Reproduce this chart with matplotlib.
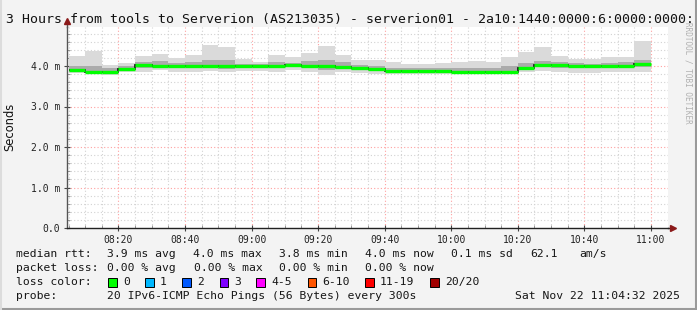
import numpy as np
import matplotlib
matplotlib.use("Agg")
import matplotlib.pyplot as plt
from matplotlib.lines import Line2D
from matplotlib.patches import Rectangle

# ---------------- data ----------------
# bin edges: minutes after 08:00 (5-minute bins, 08:05 .. 11:00)
bin_edges = list(range(5, 181, 5))
rtt_median = [3.89, 3.86, 3.86, 3.93, 4.02, 4.01, 4.00, 4.00, 4.00, 3.99, 4.00, 4.00,
              4.01, 4.02, 4.00, 4.00, 3.98, 3.95, 3.93, 3.88, 3.88, 3.88, 3.88, 3.85,
              3.84, 3.85, 3.85, 3.95, 4.03, 4.03, 4.01, 4.00, 4.01, 4.01, 4.05]
rtt_max = [4.25, 4.37, 4.02, 4.08, 4.25, 4.30, 4.20, 4.27, 4.53, 4.48, 4.17, 4.09,
           4.28, 4.23, 4.33, 4.50, 4.28, 4.15, 4.15, 4.09, 4.04, 4.04, 4.08, 4.09,
           4.12, 4.09, 4.21, 4.34, 4.48, 4.25, 4.17, 4.17, 4.21, 4.23, 4.62]
rtt_hi = [4.00, 4.00, 3.95, 4.00, 4.10, 4.12, 4.08, 4.10, 4.16, 4.14, 4.06, 4.05,
          4.10, 4.08, 4.12, 4.16, 4.10, 4.03, 4.00, 3.96, 3.94, 3.94, 3.96, 3.95,
          3.96, 3.95, 4.00, 4.08, 4.12, 4.10, 4.07, 4.06, 4.08, 4.09, 4.16]
rtt_lo = [3.86, 3.84, 3.83, 3.89, 3.95, 3.96, 3.94, 3.95, 3.95, 3.93, 3.95, 3.96,
          3.95, 3.97, 3.95, 3.90, 3.92, 3.90, 3.88, 3.85, 3.85, 3.85, 3.85, 3.83,
          3.83, 3.84, 3.84, 3.90, 3.97, 3.96, 3.95, 3.94, 3.96, 3.95, 3.98]
rtt_min = [3.82, 3.82, 3.79, 3.84, 3.86, 3.89, 3.86, 3.86, 3.88, 3.84, 3.87, 3.88,
           3.84, 3.90, 3.86, 3.79, 3.84, 3.82, 3.80, 3.80, 3.80, 3.80, 3.81, 3.80,
           3.80, 3.82, 3.82, 3.84, 3.88, 3.86, 3.82, 3.82, 3.86, 3.84, 3.84]

x_ticks = [20, 40, 60, 80, 100, 120, 140, 160, 180]
x_ticklabels = ["08:20", "08:40", "09:00", "09:20", "09:40", "10:00", "10:20", "10:40", "11:00"]
y_ticks = [0, 1, 2, 3, 4]
y_ticklabels = ["0.0", "1.0 m", "2.0 m", "3.0 m", "4.0 m"]

title = "3 Hours from tools to Serverion (AS213035) - serverion01 - 2a10:1440:0000:6:0000:0000:"
legend_rows = [
    [(16, "median rtt:"), (107, "3.9 ms avg"), (193, "4.0 ms max"), (279, "3.8 ms min"),
     (365, "4.0 ms now"), (451, "0.1 ms sd"), (530, "62.1"), (579, "am/s")],
    [(16, "packet loss:"), (107, "0.00 % avg"), (194, "0.00 % max"), (279, "0.00 % min"),
     (365, "0.00 % now")],
]
loss_labels = ["0", "1", "2", "3", "4-5", "6-10", "11-19", "20/20"]
loss_colors = ["#00ff00", "#00b8ff", "#0059ff", "#7e00ff", "#ff00ff", "#ff5500", "#ff0000", "#a10000"]
loss_box_x = [108, 145, 182, 219.5, 256, 307.5, 365, 430]
probe_text = "20 IPv6-ICMP Echo Pings (56 Bytes) every 300s"
date_text = "Sat Nov 22 11:04:32 2025"

# ---------------- figure ----------------
W, H = 697, 310
fig = plt.figure(figsize=(W / 100, H / 100), dpi=100, facecolor="#f3f3f3")
mono = "DejaVu Sans Mono"

x0_px, x1_px, ybot_px, ytop_px = 67, 668, 228, 27
ax = fig.add_axes([x0_px / W, 1 - ybot_px / H, (x1_px - x0_px) / W, (ybot_px - ytop_px) / H])
ax.set_facecolor("white")
px_per_min = 599 / 180.0
xmin = 4 + 32 / 60
ax.set_xlim(xmin, xmin + (x1_px - x0_px) / px_per_min)
ax.set_ylim(0, (ybot_px - ytop_px) / 40.5)

# grid
for m in range(5, 185, 5):
    if m % 20 == 0:
        ax.axvline(m, color="#ffa0a0", lw=0.8, ls=(0, (1, 2)), zorder=1)
    else:
        ax.axvline(m, color="#d2d2d2", lw=0.8, ls=(0, (1, 2)), zorder=1)
for i in range(1, 25):
    v = i * 0.2
    if i % 5 == 0:
        ax.axhline(v, color="#ffa0a0", lw=0.8, ls=(0, (1, 2)), zorder=1)
    else:
        ax.axhline(v, color="#d2d2d2", lw=0.8, ls=(0, (1, 2)), zorder=1)

# smoke
edges = np.array(bin_edges)
ax.stairs(rtt_max, edges, baseline=rtt_min, fill=True, color="#dadada", lw=0, zorder=2)
ax.stairs(rtt_hi, edges, baseline=rtt_lo, fill=True, color="#ababab", lw=0, zorder=3)
# median
ax.stairs(rtt_median, edges, baseline=None, color="#1a1a1a", lw=1.3, zorder=4)
ax.hlines(rtt_median, edges[:-1], edges[1:], color="#00ff00", lw=2.4, zorder=5)

# axes styling
for s in ["top", "right"]:
    ax.spines[s].set_visible(False)
ax.spines["left"].set_color("#555555")
ax.spines["bottom"].set_color("#222222")
ax.spines["left"].set_linewidth(1)
ax.spines["bottom"].set_linewidth(1)
ax.set_xticks(x_ticks)
ax.set_xticklabels(x_ticklabels, fontsize=7, family=mono, color="#222222")
ax.set_yticks(y_ticks)
ax.set_yticklabels(y_ticklabels, fontsize=7, family=mono, color="#222222")
ax.set_xticks(list(range(5, 185, 5)), minor=True)
ax.set_yticks([i * 0.2 for i in range(25)], minor=True)
ax.tick_params(axis="both", which="major", direction="inout", length=4, width=0.8, color="#444444", pad=3)
ax.tick_params(axis="both", which="minor", direction="in", length=2, width=0.6, color="#888888")

# arrows
fig.add_artist(Line2D([x1_px / W, 672 / W], [1 - ybot_px / H] * 2, color="#222222", lw=1))
fig.add_artist(Line2D([x0_px / W] * 2, [1 - ytop_px / H, 1 - 22 / H], color="#555555", lw=1))
fig.add_artist(Line2D([673 / W], [1 - ybot_px / H], marker=">", ms=4, color="#8b1a1a", mec="#8b1a1a"))
fig.add_artist(Line2D([x0_px / W], [1 - 21 / H], marker="^", ms=4, color="#8b1a1a", mec="#8b1a1a"))

def ftext(x, y, s, **kw):
    fig.text(x / W, 1 - y / H, s, **kw)

ftext(6, 19, title, family=mono, fontsize=9.5, va="center", ha="left", color="#111111")
ftext(10, 127, "Seconds", family="DejaVu Sans", fontsize=8.3, rotation=90, va="center", ha="center", color="#111111")
ftext(688, 22, "RRDTOOL / TOBI OETIKER", family=mono, fontsize=5.5, rotation=270, va="top", ha="center", color="#b0b0b0")

row_y = [254, 268, 282, 296]
for r, row in enumerate(legend_rows):
    for x, s in row:
        ftext(x, row_y[r], s, family=mono, fontsize=8.2, va="center", ha="left", color="#161616")
ftext(16, row_y[2], "loss color:", family=mono, fontsize=8.2, va="center", ha="left", color="#161616")
for bx, lab, col in zip(loss_box_x, loss_labels, loss_colors):
    fig.add_artist(Rectangle((bx / W, 1 - (row_y[2] + 4.5) / H), 8.5 / W, 9 / H,
                             facecolor=col, edgecolor="#000000", lw=0.7))
    ftext(bx + 15, row_y[2], lab, family=mono, fontsize=8.2, va="center", ha="left", color="#161616")
ftext(16, row_y[3], "probe:", family=mono, fontsize=8.2, va="center", ha="left", color="#161616")
ftext(107, row_y[3], probe_text, family=mono, fontsize=8.2, va="center", ha="left", color="#161616")
ftext(680, row_y[3], date_text, family=mono, fontsize=8.2, va="center", ha="right", color="#161616")

# image frame
fig.add_artist(Line2D([0, 1], [1 - 308.5 / H] * 2, color="#9a9a9a", lw=1.5))
fig.add_artist(Line2D([695.5 / W] * 2, [0, 1], color="#9a9a9a", lw=1.5))
fig.add_artist(Line2D([1 / W] * 2, [0, 1], color="#dcdcdc", lw=1.5))

fig.savefig("out.png", dpi=100, facecolor=fig.get_facecolor())
